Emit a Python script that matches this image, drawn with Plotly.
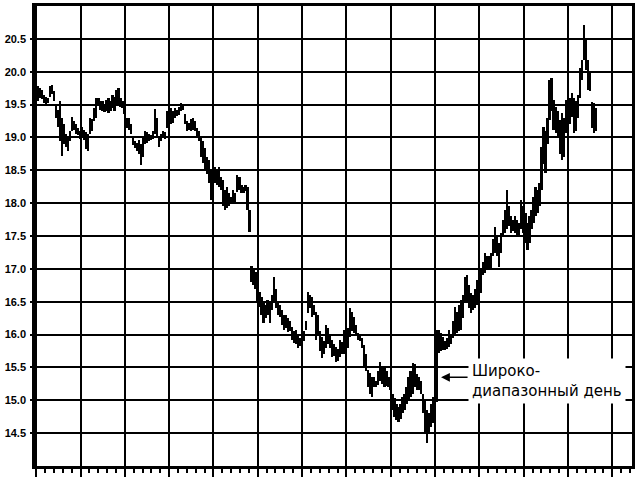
import plotly.graph_objects as go

# Daily price bars (trading-day index 0..), highs and lows
highs = [
    19.82, 19.78, 19.75, 19.72, 19.65, 19.62, 19.60, 19.78, 19.80, 19.70,
    19.50, 19.42, 19.55, 19.30, 19.20, 19.05, 19.00, 19.10, 19.31, 19.25,
    19.20, 19.15, 19.10, 19.16, 19.12, 19.08, 19.05, 19.30, 19.28, 19.45,
    19.60, 19.60, 19.56, 19.55, 19.50, 19.57, 19.60, 19.55, 19.65, 19.62,
    19.72, 19.75, 19.60, 19.55, 19.50, 19.30, 19.29, 19.20, 19.00, 18.95,
    18.92, 18.96, 18.90, 19.00, 19.10, 19.08, 19.05, 19.04, 19.10, 19.44,
    19.30, 19.00, 19.05, 19.10, 19.08, 19.40, 19.42, 19.45, 19.40, 19.45,
    19.42, 19.46, 19.52, 19.50, 19.35, 19.25, 19.22, 19.28, 19.30, 19.25,
    19.15, 19.10, 18.99, 18.95, 18.84, 18.70, 18.66, 18.50, 18.60, 18.55,
    18.52, 18.55, 18.40, 18.35, 18.20, 18.25, 18.15, 18.10, 18.20, 18.15,
    18.43, 18.40, 18.28, 18.25, 18.28, 18.25, 17.90, 17.05, 17.00, 16.95,
    16.72, 16.65, 16.57, 16.50, 16.45, 16.53, 16.50, 16.60, 16.88, 16.70,
    16.48, 16.45, 16.37, 16.30, 16.30, 16.25, 16.20, 16.11, 16.05, 16.07,
    16.00, 15.95, 16.10, 16.05, 16.20, 16.65, 16.60, 16.57, 16.45, 16.34,
    16.30, 16.05, 15.96, 15.90, 16.14, 16.10, 16.00, 15.92, 15.85, 15.81,
    15.78, 15.92, 15.88, 16.07, 16.00, 16.10, 16.40, 16.35, 16.27, 16.15,
    16.02, 16.00, 15.95, 15.84, 15.70, 15.46, 15.42, 15.35, 15.35, 15.30,
    15.45, 15.58, 15.52, 15.50, 15.45, 15.35, 15.30, 15.10, 15.03, 14.95,
    14.90, 14.95, 15.05, 15.10, 15.20, 15.35, 15.45, 15.56, 15.55, 15.40,
    15.35, 15.30, 15.10, 15.00, 14.85, 14.80, 14.95, 15.05, 15.20, 16.07,
    16.07, 16.02, 15.96, 15.90, 15.95, 16.07, 16.00, 16.20, 16.42, 16.35,
    16.45, 16.53, 16.60, 16.88, 16.90, 16.75, 16.63, 16.60, 16.70, 16.83,
    16.88, 16.98, 17.10, 17.24, 17.20, 17.20, 17.24, 17.45, 17.64, 17.50,
    17.39, 17.54, 17.75, 17.90, 18.20, 17.95, 17.80, 17.75, 17.80, 17.75,
    17.70, 18.05, 17.95, 17.85, 17.70, 17.80, 17.90, 18.10, 18.25, 18.20,
    18.30, 18.85, 19.16, 19.10, 19.30, 19.87, 19.90, 19.57, 19.46, 19.40,
    19.26, 19.37, 19.30, 19.57, 19.50, 19.60, 19.67, 19.60, 19.55, 19.65,
    20.05, 20.18, 20.71, 20.50, 20.18, 20.00, 19.54, 19.52, 19.45,
]
lows = [
    19.45, 19.55, 19.60, 19.58, 19.52, 19.50, 19.52, 19.62, 19.66, 19.55,
    19.30, 19.16, 18.95, 18.72, 18.90, 18.85, 18.80, 18.95, 19.10, 19.12,
    19.05, 19.03, 18.98, 19.00, 18.96, 18.82, 18.80, 19.05, 19.10, 19.25,
    19.30, 19.50, 19.42, 19.40, 19.38, 19.40, 19.37, 19.40, 19.45, 19.40,
    19.50, 19.48, 19.46, 19.45, 19.35, 19.15, 19.11, 19.05, 18.88, 18.84,
    18.80, 18.75, 18.58, 18.70, 18.90, 18.92, 18.95, 18.96, 18.98, 19.05,
    19.00, 18.86, 18.95, 19.00, 18.98, 19.15, 19.14, 19.20, 19.22, 19.30,
    19.32, 19.34, 19.40, 19.42, 19.20, 19.10, 19.12, 19.10, 19.12, 19.10,
    19.00, 18.95, 18.70, 18.61, 18.50, 18.45, 18.30, 18.05, 18.10, 18.30,
    18.28, 18.25, 18.20, 17.95, 17.90, 17.93, 17.95, 17.98, 18.00, 18.02,
    18.17, 18.20, 18.15, 18.15, 18.18, 17.90, 17.56, 16.80, 16.75, 16.70,
    16.50, 16.42, 16.30, 16.18, 16.25, 16.30, 16.18, 16.37, 16.50, 16.40,
    16.30, 16.27, 16.15, 16.07, 16.10, 16.04, 16.05, 15.92, 15.87, 15.85,
    15.80, 15.82, 15.90, 15.90, 16.07, 16.33, 16.40, 16.27, 16.30, 15.92,
    16.00, 15.75, 15.64, 15.70, 15.80, 15.85, 15.80, 15.66, 15.68, 15.58,
    15.60, 15.66, 15.70, 15.70, 15.66, 15.80, 15.96, 16.05, 16.02, 16.00,
    15.92, 15.90, 15.80, 15.50, 15.45, 15.20, 15.10, 15.05, 15.20, 15.20,
    15.23, 15.30, 15.25, 15.20, 15.22, 15.20, 15.15, 14.85, 14.74, 14.70,
    14.67, 14.72, 14.80, 14.85, 14.95, 15.00, 15.05, 15.10, 15.20, 15.15,
    15.15, 15.10, 14.80, 14.50, 14.35, 14.50, 14.60, 14.65, 14.90, 14.98,
    15.72, 15.75, 15.76, 15.76, 15.78, 15.81, 15.85, 15.95, 16.00, 16.02,
    16.05, 16.07, 16.25, 16.48, 16.50, 16.40, 16.33, 16.37, 16.40, 16.45,
    16.53, 16.63, 16.90, 16.94, 17.00, 16.98, 17.00, 17.20, 17.24, 17.20,
    17.03, 17.24, 17.50, 17.54, 17.60, 17.65, 17.55, 17.58, 17.55, 17.49,
    17.50, 17.60, 17.55, 17.40, 17.29, 17.40, 17.60, 17.70, 17.80, 17.85,
    17.95, 18.20, 18.60, 18.46, 18.90, 19.26, 19.40, 19.11, 19.07, 19.00,
    18.75, 18.65, 18.70, 19.07, 19.10, 19.20, 19.31, 19.07, 19.10, 19.30,
    19.60, 19.87, 20.18, 20.03, 19.72, 19.70, 19.15, 19.07, 19.10,
]
days = list(range(len(highs)))
price_ticks = [14.5, 15.0, 15.5, 16.0, 16.5, 17.0, 17.5, 18.0, 18.5, 19.0, 19.5, 20.0, 20.5]
price_tick_labels = [f"{v:.1f}" for v in price_ticks]
note_text = "Широко-<br>диапазонный день"
wide_day = 199
wide_day_level = 15.35

ranges = [h - l for h, l in zip(highs, lows)]

fig = go.Figure()
fig.add_trace(go.Bar(
    x=days, y=ranges, base=lows,
    marker=dict(color="black", line=dict(width=0)),
    width=0.85, showlegend=False, hoverinfo="skip",
))

fig.add_annotation(
    x=wide_day + 2, y=wide_day_level, xref="x", yref="y",
    text="", showarrow=True, arrowhead=2, arrowsize=1.1, arrowwidth=1.6,
    arrowcolor="black", ax=28, ay=0,
)
fig.add_annotation(
    x=214.5, y=15.29, xref="x", yref="y", xanchor="left", yanchor="middle",
    text=note_text, showarrow=False, align="left",
    font=dict(family="DejaVu Sans", size=15, color="black"),
    bgcolor="white", borderpad=3,
)

fig.update_layout(
    width=636, height=496,
    margin=dict(l=35, r=4, t=6, b=30, autoexpand=False),
    paper_bgcolor="white", plot_bgcolor="white",
    bargap=0,
    xaxis=dict(
        range=[-0.6, 295.8], showgrid=True, gridcolor="black", gridwidth=2,
        tick0=0, dtick=22, showticklabels=False, zeroline=False, automargin=False,
        showline=True, linecolor="black", linewidth=2.5, mirror=True,
        ticks="outside", ticklen=8, tickwidth=2, tickcolor="black",
        minor=dict(dtick=4.4, tick0=0, ticks="outside", ticklen=4,
                   tickwidth=1.5, tickcolor="black", showgrid=False),
    ),
    yaxis=dict(
        range=[14.0, 21.0], tickvals=price_ticks, ticktext=price_tick_labels,
        showgrid=True, gridcolor="black", gridwidth=2, zeroline=False, automargin=False,
        showline=True, linecolor="black", linewidth=2.5, mirror=True,
        ticks="outside", ticklen=2, tickwidth=2, tickcolor="black",
        ticklabelstandoff=2,
        tickfont=dict(family="Liberation Sans", size=11, color="black", weight="bold"),
    ),
)

fig.write_html("out.html", config={"displayModeBar": False},
               post_script="document.body.style.margin='0';")
